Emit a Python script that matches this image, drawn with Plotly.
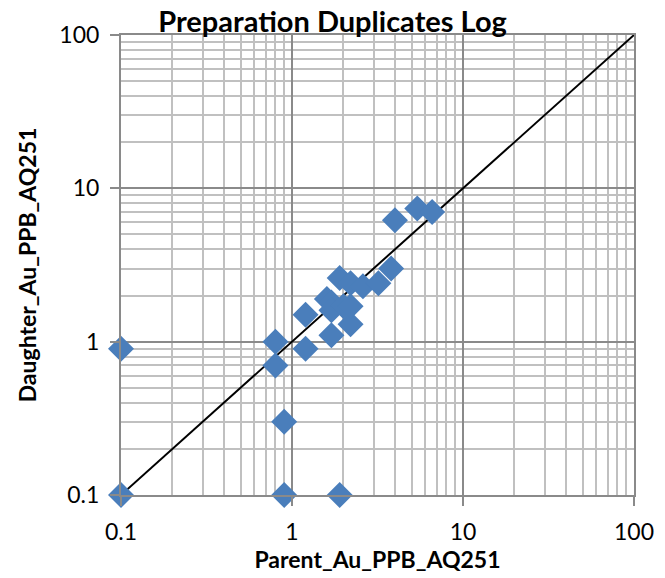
import plotly.graph_objects as go

parent = [0.1, 0.1, 0.9, 1.9, 0.9, 0.8, 0.8, 1.2, 1.2, 1.7, 2.2, 1.6, 1.7, 1.7, 2.0, 2.2,
          1.9, 2.2, 2.6, 3.2, 3.8, 4.0, 5.4, 6.6]
daughter = [0.9, 0.1, 0.1, 0.1, 0.3, 0.7, 1.0, 0.9, 1.5, 1.1, 1.3, 1.9, 1.8, 1.6, 1.7, 1.7,
            2.6, 2.4, 2.3, 2.4, 3.0, 6.2, 7.4, 7.0]
ref_line = [0.1, 100]

FONT = "Lato"

fig = go.Figure()
fig.add_trace(go.Scatter(x=ref_line, y=ref_line, mode="lines",
                         line=dict(color="black", width=2), showlegend=False,
                         cliponaxis=False, hoverinfo="skip"))
fig.add_trace(go.Scatter(x=parent, y=daughter, mode="markers",
                         marker=dict(symbol="diamond", size=20, color="#4A7EBB",
                                     line=dict(width=0)),
                         showlegend=False, cliponaxis=False))

axis_common = dict(
    type="log", range=[-1, 2], dtick=1, automargin=False,
    showgrid=True, gridcolor="#8a8a8a", gridwidth=2,
    minor=dict(dtick="D1", showgrid=True, gridcolor="#c0c0c0", gridwidth=2,
               ticks=""),
    showline=True, linecolor="#8a8a8a", linewidth=2, mirror=True,
    ticks="outside", ticklen=9, tickcolor="#8a8a8a", tickwidth=2,
    tickfont=dict(family=FONT, size=23, color="black"),
    tickvals=[0.1, 1, 10, 100], ticktext=["0.1", "1", "10", "100"],
    zeroline=False,
)

fig.update_xaxes(**axis_common, ticklabelstandoff=6,
                 title=dict(text="<b>Parent_Au_PPB_AQ251</b>",
                            font=dict(family=FONT, size=23, color="black"),
                            standoff=4))
fig.update_yaxes(**axis_common, ticklabelstandoff=6,
                 title=dict(text="<b>Daughter_Au_PPB_AQ251</b>",
                            font=dict(family=FONT, size=23, color="black"),
                            standoff=16))

fig.update_layout(
    width=665, height=578,
    margin=dict(l=121, r=31, t=35, b=83, autoexpand=False),
    paper_bgcolor="white", plot_bgcolor="white",
    title=dict(text="<b>Preparation Duplicates Log</b>", x=0.5, xanchor="center",
               y=0.963, yanchor="middle",
               font=dict(family=FONT, size=29, color="black")),
)

fig.write_html("out.html")
